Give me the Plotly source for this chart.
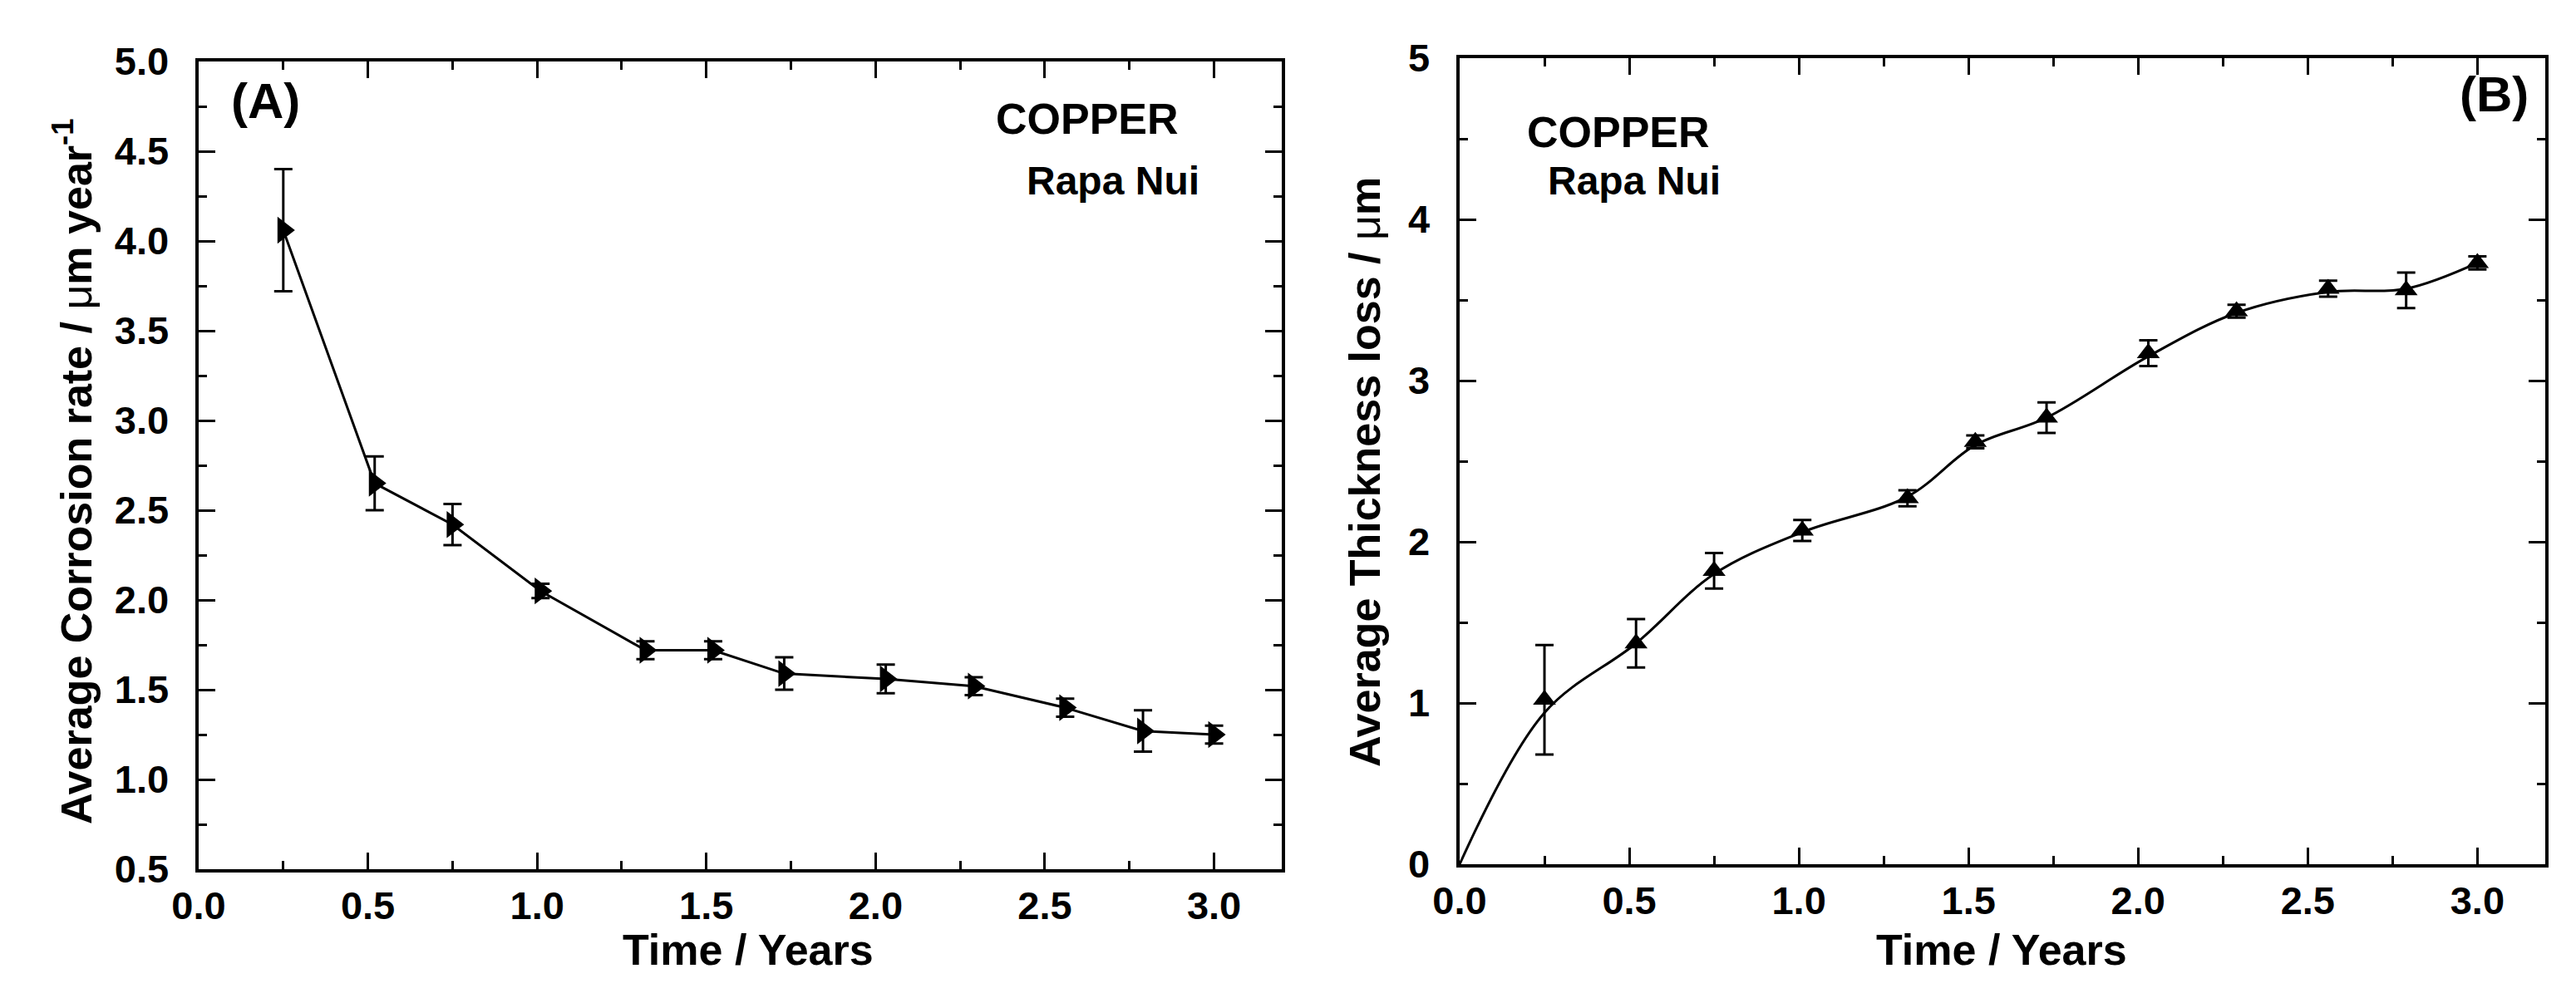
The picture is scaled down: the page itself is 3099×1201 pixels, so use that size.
import plotly.graph_objects as go

# ---------------- data ----------------
time_years = [0.25, 0.52, 0.75, 1.01, 1.32, 1.52, 1.73, 2.03, 2.29, 2.56, 2.79, 3.0]

rate_a = [4.06, 2.65, 2.42, 2.05, 1.72, 1.72, 1.59, 1.56, 1.52, 1.40, 1.27, 1.25]
rate_err = [0.34, 0.15, 0.115, 0.04, 0.05, 0.05, 0.09, 0.08, 0.05, 0.05, 0.115, 0.05]

loss_b = [1.02, 1.37, 1.82, 2.07, 2.27, 2.62, 2.77, 3.17, 3.43, 3.57, 3.56, 3.73]
loss_err = [0.34, 0.15, 0.11, 0.065, 0.05, 0.04, 0.095, 0.08, 0.04, 0.05, 0.11, 0.04]

fit_x = [0.0, 0.25, 0.52, 0.75, 1.01, 1.32, 1.52, 1.73, 2.03, 2.29, 2.56, 2.79, 3.0]
fit_y = [0.0, 0.94, 1.37, 1.80, 2.06, 2.28, 2.60, 2.77, 3.15, 3.42, 3.55, 3.57, 3.73]

W, H = 3099, 1201
FONT = "Liberation Sans, Arial, sans-serif"

# plot-area box (pixels of the full picture)
L, R, T, B = 231, 3054, 62, 1038

fig = go.Figure()

# Panel A
fig.add_trace(go.Scatter(
    x=time_years, y=rate_a, mode="lines+markers",
    line=dict(color="black", width=3),
    marker=dict(symbol="triangle-right", size=28, color="black"),
    error_y=dict(type="data", array=rate_err, visible=True,
                 color="black", thickness=3, width=11),
    xaxis="x", yaxis="y", showlegend=False))

# Panel B - smooth curve
fig.add_trace(go.Scatter(
    x=fit_x, y=fit_y, mode="lines",
    line=dict(color="black", width=3, shape="spline", smoothing=1.0),
    xaxis="x2", yaxis="y2", showlegend=False))

# Panel B - points
fig.add_trace(go.Scatter(
    x=time_years, y=loss_b, mode="markers",
    marker=dict(symbol="triangle-up", size=24, color="black"),
    error_y=dict(type="data", array=loss_err, visible=True,
                 color="black", thickness=3, width=11),
    xaxis="x2", yaxis="y2", showlegend=False))

# invisible carriers so that the overlay axes holding the minor ticks are drawn
for xa, ya, yv in [("x3", "y3", rate_a), ("x4", "y4", loss_b)]:
    fig.add_trace(go.Scatter(
        x=time_years, y=yv, mode="markers",
        marker=dict(opacity=0, size=1), hoverinfo="skip",
        xaxis=xa, yaxis=ya, showlegend=False))


def fx(x):
    return (x - L) / (R - L)


def fy(y):
    return (B - y) / (B - T)


def main_axis(domain, rng, dtick, fmt, anchor, suffix=""):
    return dict(
        domain=domain, range=rng, anchor=anchor,
        tickmode="linear", tick0=0, dtick=dtick, tickformat=fmt, ticksuffix=suffix,
        showline=True, linecolor="black", linewidth=4, mirror="allticks",
        ticks="inside", ticklen=20, tickwidth=3, tickcolor="black",
        showgrid=False, zeroline=False,
        tickfont=dict(family=FONT, size=47, color="black", weight="bold"),
    )


def minor_axis(domain, rng, dtick, anchor, over):
    return dict(
        domain=domain, range=rng, anchor=anchor, overlaying=over,
        tickmode="linear", tick0=0, dtick=dtick,
        showline=False, mirror="allticks", showticklabels=False,
        ticks="inside", ticklen=10, tickwidth=3, tickcolor="black",
        showgrid=False, zeroline=False,
    )


xa_dom = [fx(231), fx(1534)]
ya_dom = [fy(1038), fy(66)]
xb_dom = [fx(1748), fx(3054)]
yb_dom = [fy(1032), fy(62)]

YSUF = "\u00a0\u2009"

fig.update_layout(
    width=W, height=H,
    margin=dict(l=L, r=W - R, t=T, b=H - B, autoexpand=False),
    paper_bgcolor="white", plot_bgcolor="white",
    font=dict(family=FONT, color="black"),
    xaxis=main_axis(xa_dom, [0, 3.2], 0.5, ".1f", "y"),
    yaxis=main_axis(ya_dom, [0.5, 5.0], 0.5, ".1f", "x", YSUF),
    xaxis2=main_axis(xb_dom, [0, 3.2], 0.5, ".1f", "y2"),
    yaxis2=main_axis(yb_dom, [0, 5], 1, "d", "x2", YSUF),
    xaxis3=minor_axis(xa_dom, [0, 3.2], 0.25, "y", "x"),
    yaxis3=minor_axis(ya_dom, [0.5, 5.0], 0.25, "x", "y"),
    xaxis4=minor_axis(xb_dom, [0, 3.2], 0.25, "y2", "x2"),
    yaxis4=minor_axis(yb_dom, [0, 5], 0.5, "x2", "y2"),
)


def label(text, x, y, size, angle=0):
    fig.add_annotation(text=text, x=fx(x), y=fy(y), xref="paper", yref="paper",
                       xanchor="center", yanchor="middle", showarrow=False,
                       textangle=angle,
                       font=dict(family=FONT, size=size, color="black", weight="bold"))


# axis titles
label("Time / Years", 892, 1135, 52)
label("Time / Years", 2400, 1135, 52)
label("Average Corrosion rate / <span style='font-weight:normal'>μ</span>m year<sup>-1</sup>",
      80, 560, 52, -90)
label("Average Thickness loss / <span style='font-weight:normal'>μ</span>m",
      1634, 560, 52, -90)

# panel texts
label("(A)", 311, 113, 60)
label("COPPER", 1300, 135, 52)
label("Rapa Nui", 1331, 209, 48)
label("(B)", 2992, 105, 60)
label("COPPER", 1939, 151, 52)
label("Rapa Nui", 1958, 209, 48)

fig.write_html("out.html")
